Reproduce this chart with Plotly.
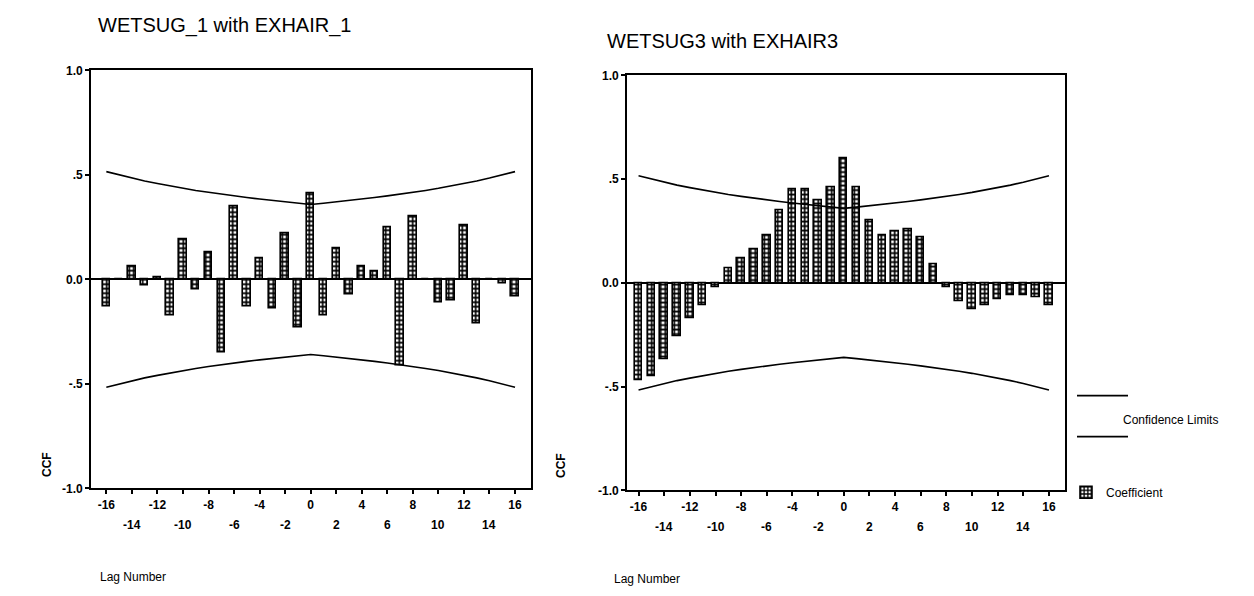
import plotly.graph_objects as go

# Lags shown on both cross-correlation panels
lags = list(range(-16, 17))

# Cross-correlation coefficients, WETSUG_1 with EXHAIR_1
ccf_1 = [-0.13, 0.00, 0.06, -0.03, 0.01, -0.17, 0.19, -0.05, 0.13, -0.35, 0.35,
         -0.13, 0.10, -0.14, 0.22, -0.23, 0.41, -0.17, 0.15, -0.07, 0.06, 0.04,
         0.25, -0.41, 0.30, 0.00, -0.11, -0.10, 0.26, -0.21, 0.00, -0.02, -0.08]

# Cross-correlation coefficients, WETSUG3 with EXHAIR3
ccf_3 = [-0.47, -0.45, -0.37, -0.26, -0.17, -0.11, -0.02, 0.07, 0.12, 0.16, 0.23,
         0.35, 0.45, 0.45, 0.40, 0.46, 0.60, 0.46, 0.30, 0.23, 0.25, 0.26,
         0.22, 0.09, -0.02, -0.09, -0.13, -0.11, -0.08, -0.06, -0.06, -0.07, -0.11]

# Upper confidence limit per lag (lower limit is its negative)
conf_limit = [0.516, 0.500, 0.485, 0.471, 0.459, 0.447, 0.436, 0.426, 0.417,
              0.408, 0.400, 0.392, 0.385, 0.378, 0.371, 0.365, 0.359, 0.365,
              0.371, 0.378, 0.385, 0.392, 0.400, 0.408, 0.417, 0.426, 0.436,
              0.447, 0.459, 0.471, 0.485, 0.500, 0.516]

y_tick_vals = [1.0, 0.5, 0.0, -0.5, -1.0]
y_tick_text = ["1.0", ".5", "0.0", "-.5", "-1.0"]
x_tick_vals = list(range(-16, 17, 2))
row1_labels = [-16, -12, -8, -4, 0, 4, 8, 12, 16]
row2_labels = [-14, -10, -6, -2, 2, 6, 10, 14]

titles = ["WETSUG_1 with EXHAIR_1", "WETSUG3 with EXHAIR3"]

W, H = 1254, 596
FONT = "Liberation Sans, Arial, sans-serif"


def px_x(p):
    return p / W


def px_y(p):
    return 1 - p / H


bar_marker = dict(
    color="white",
    line=dict(color="black", width=1.6),
    pattern=dict(shape="+", fgcolor="black", bgcolor="white",
                 size=4.5, solidity=0.6, fillmode="replace"),
)

fig = go.Figure()

panels = [
    dict(values=ccf_1, xa="x", ya="y", show=False),
    dict(values=ccf_3, xa="x2", ya="y2", show=True),
]

for p in panels:
    fig.add_trace(go.Bar(
        x=lags, y=p["values"], width=0.58, marker=bar_marker,
        xaxis=p["xa"], yaxis=p["ya"], name="Coefficient",
        showlegend=p["show"],
    ))
    fig.add_trace(go.Scatter(
        x=lags, y=conf_limit, mode="lines",
        line=dict(color="black", width=1.6),
        xaxis=p["xa"], yaxis=p["ya"], showlegend=False,
    ))
    fig.add_trace(go.Scatter(
        x=lags, y=[-v for v in conf_limit], mode="lines",
        line=dict(color="black", width=1.6),
        xaxis=p["xa"], yaxis=p["ya"], showlegend=False,
    ))

common_x = dict(
    tickvals=x_tick_vals,
    ticktext=[str(v) if v in row1_labels else "" for v in x_tick_vals],
    ticks="outside", ticklen=4, tickwidth=1.5, tickcolor="black",
    showline=True, linecolor="black", linewidth=1.8, mirror=True,
    showgrid=False, zeroline=False,
    tickfont=dict(family=FONT, size=12, color="black", weight="bold"),
)
common_y = dict(
    range=[-1, 1], tickvals=y_tick_vals, ticktext=y_tick_text,
    ticks="outside", ticklen=4, tickwidth=1.5, tickcolor="black",
    showline=True, linecolor="black", linewidth=1.8, mirror=True,
    showgrid=False, zeroline=True, zerolinecolor="black", zerolinewidth=1.6,
    tickfont=dict(family=FONT, size=12, color="black", weight="bold"),
)

fig.update_layout(
    width=W, height=H,
    margin=dict(l=0, r=0, t=0, b=0),
    paper_bgcolor="white", plot_bgcolor="white",
    bargap=0,
    xaxis=dict(domain=[px_x(91), px_x(531)], range=[-17.2, 17.25], anchor="y", **common_x),
    yaxis=dict(domain=[px_y(493), px_y(65)], anchor="x", **common_y),
    xaxis2=dict(domain=[px_x(627), px_x(1065)], range=[-16.9, 17.25], anchor="y2", **common_x),
    yaxis2=dict(domain=[px_y(495), px_y(70)], anchor="x2", **common_y),
    showlegend=True,
    legend=dict(
        x=px_x(1066), y=px_y(482), xanchor="left", yanchor="top",
        bgcolor="rgba(0,0,0,0)", borderwidth=0,
        font=dict(family=FONT, size=12, color="black"),
        itemwidth=30,
    ),
)

annotations = []
# Panel titles
annotations.append(dict(text=titles[0], x=px_x(96), y=px_y(19), xref="paper", yref="paper",
                        xanchor="left", yanchor="middle", showarrow=False,
                        font=dict(family=FONT, size=20, color="black")))
annotations.append(dict(text=titles[1], x=px_x(605), y=px_y(35), xref="paper", yref="paper",
                        xanchor="left", yanchor="middle", showarrow=False,
                        font=dict(family=FONT, size=20, color="black")))

# Second row of lag labels and axis titles for each panel
for xa, row2_y, lab_x, lab_y, ccf_x, ccf_y in [
    ("x", 530, 98, 584, 47, 468),
    ("x2", 532, 612, 586, 561, 470),
]:
    for v in row2_labels:
        annotations.append(dict(text=str(v), x=v, y=px_y(row2_y), xref=xa, yref="paper",
                                xanchor="center", yanchor="middle", showarrow=False,
                                font=dict(family=FONT, size=12, color="black", weight="bold")))
    annotations.append(dict(text="Lag Number", x=px_x(lab_x), y=px_y(lab_y), xref="paper",
                            yref="paper", xanchor="left", yanchor="middle", showarrow=False,
                            font=dict(family=FONT, size=12, color="black")))
    annotations.append(dict(text="CCF", x=px_x(ccf_x), y=px_y(ccf_y), xref="paper",
                            yref="paper", xanchor="center", yanchor="middle", showarrow=False,
                            textangle=-90,
                            font=dict(family=FONT, size=12, color="black", weight="bold")))

# Legend entry for the confidence limit lines
annotations.append(dict(text="Confidence Limits", x=px_x(1121), y=px_y(423), xref="paper",
                        yref="paper", xanchor="left", yanchor="middle", showarrow=False,
                        font=dict(family=FONT, size=12, color="black")))

shapes = [
    dict(type="line", xref="paper", yref="paper", x0=px_x(1077), x1=px_x(1128),
         y0=px_y(398), y1=px_y(398), line=dict(color="black", width=1.6)),
    dict(type="line", xref="paper", yref="paper", x0=px_x(1077), x1=px_x(1128),
         y0=px_y(440), y1=px_y(440), line=dict(color="black", width=1.6)),
]

fig.update_layout(annotations=annotations, shapes=shapes)

fig.write_html("out.html")
